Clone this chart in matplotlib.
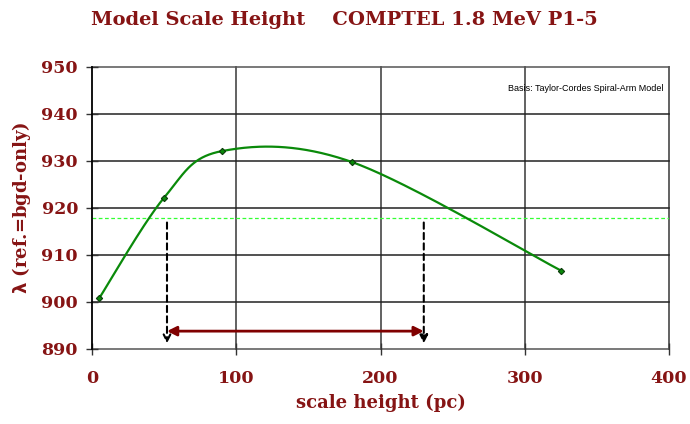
import numpy as np
import matplotlib
matplotlib.use("Agg")
import matplotlib.pyplot as plt

# Likelihood ratio versus model scale height
scale_height = [5, 50, 90, 180, 325]
lam = [900.8, 922.2, 932.1, 929.8, 906.7]
reference_level = 917.8
range_lo, range_hi = 52, 230
range_y = 893.8

x_ticks = [0, 100, 200, 300, 400]
y_ticks = [890, 900, 910, 920, 930, 940, 950]

dark_red = "#861414"
serif = ["DejaVu Serif"]


def smooth_curve(xs, ys, n=60):
    """Catmull-Rom style smoothed line through the points."""
    P = np.column_stack([xs, ys]).astype(float)
    out = []
    for i in range(len(P) - 1):
        p0 = P[i - 1] if i > 0 else P[i]
        p1, p2 = P[i], P[i + 1]
        p3 = P[i + 2] if i + 2 < len(P) else P[i + 1]
        c1 = p1 + (p2 - p0) / 6.0
        c2 = p2 - (p3 - p1) / 6.0
        t = np.linspace(0, 1, n)[:, None]
        seg = ((1 - t) ** 3) * p1 + 3 * ((1 - t) ** 2) * t * c1 \
            + 3 * (1 - t) * t ** 2 * c2 + t ** 3 * p2
        out.append(seg if i == 0 else seg[1:])
    pts = np.vstack(out)
    return pts[:, 0], pts[:, 1]


fig = plt.figure(figsize=(6.9, 4.24), dpi=100)
ax = fig.add_axes([0.1333, 0.1769, 0.8363, 0.6651])

ax.set_xlim(0, 400)
ax.set_ylim(890, 950)

# grid
for xv in x_ticks[1:]:
    ax.axvline(xv, color="#555555", lw=1.3, zorder=1, clip_on=False)
for yv in y_ticks:
    ax.axhline(yv, color="#222222" if yv not in (890, 950) else "#555555",
               lw=1.1, zorder=1, clip_on=False)

ax.spines["top"].set_visible(False)
ax.spines["right"].set_visible(False)
ax.spines["bottom"].set_visible(False)
ax.spines["left"].set_color("black")
ax.spines["left"].set_linewidth(1.3)
ax.spines["left"].set_zorder(6)

ax.set_xticks(x_ticks)
ax.set_yticks(y_ticks)
ax.tick_params(axis="both", direction="inout", length=8, width=1.0,
               color="#333333", labelcolor=dark_red, labelsize=12.5)
ax.tick_params(axis="x", pad=11)
ax.tick_params(axis="y", pad=6)
for lab in ax.get_xticklabels() + ax.get_yticklabels():
    lab.set_family(serif)
    lab.set_fontweight("bold")

# reference level
ax.axhline(reference_level, color="#33ff33", lw=0.9, ls=(0, (3, 2)), zorder=2)

# smoothed curve and data points
sx, sy = smooth_curve(scale_height, lam)
ax.plot(sx, sy, color="#0a8a0a", lw=1.6, zorder=3)
ax.plot(scale_height, lam, ls="none", marker="D", ms=3.2,
        mfc="#0a8a0a", mec="#0a3a0a", mew=0.8, zorder=4)

# range markers
for xv, style in ((range_lo, "->"), (range_hi, "-|>")):
    ax.annotate("", xy=(xv, 890.6), xytext=(xv, reference_level - 0.3),
                arrowprops=dict(arrowstyle=style, color="black", lw=1.5,
                                ls=(0, (3, 2)), mutation_scale=12),
                zorder=5)
ax.annotate("", xy=(range_hi, range_y), xytext=(range_lo, range_y),
            arrowprops=dict(arrowstyle="<|-|>", color="#800000", lw=2,
                            mutation_scale=14, shrinkA=0, shrinkB=0),
            zorder=5)

ax.text(396, 945.5, "Basis: Taylor-Cordes Spiral-Arm Model", ha="right",
        va="center", fontsize=6.5, family=["Liberation Sans", "DejaVu Sans"],
        color="black")

ax.set_xlabel("scale height (pc)", color=dark_red, fontsize=13,
              family=serif, fontweight="bold", labelpad=5)
ax.set_ylabel(r"$\mathbf{\lambda}$ (ref.=bgd-only)", color=dark_red,
              fontsize=13, family=serif, fontweight="bold", labelpad=6)

fig.text(0.4985, 0.953, "Model Scale Height    COMPTEL 1.8 MeV P1-5",
         ha="center", va="center", color=dark_red, fontsize=14,
         family=serif, fontweight="bold")

fig.savefig("out.png", dpi=100)
